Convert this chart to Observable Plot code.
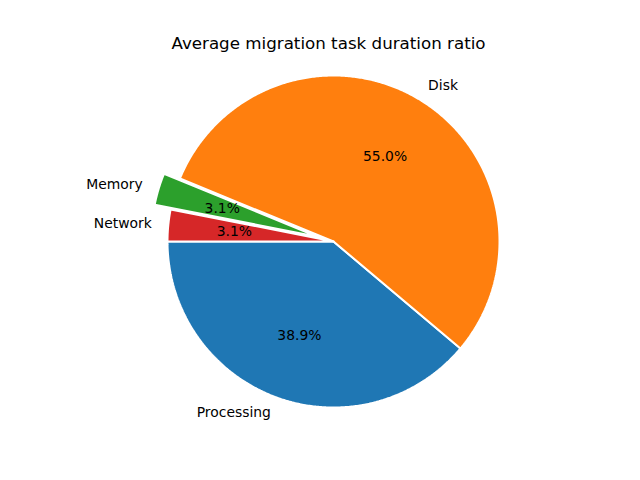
<!DOCTYPE html>
<html>
<head>
<meta charset="utf-8">
<script src="https://cdn.jsdelivr.net/npm/d3@7"></script>
<script src="https://cdn.jsdelivr.net/npm/@observablehq/plot@0.6"></script>
<style>
  html, body { margin: 0; padding: 0; background: #fff; }
  #chart { width: 640px; height: 480px; }
</style>
</head>
<body>
<div id="chart"></div>
<script>
const title = "Average migration task duration ratio";
const categories = ["Processing", "Disk", "Memory", "Network"];
const values = [38.9, 55.0, 3.1, 3.1];
const colors = ["#1f77b4", "#ff7f0e", "#2ca02c", "#d62728"];
const explode = [0, 0, 0.1, 0];
const startAngle = 180; // degrees, counterclockwise

const W = 640, H = 480;
const cx = 333, cy = 241, R = 166;

const total = d3.sum(values);
const wedges = [];
const labels = [];
let a0 = startAngle;
values.forEach((v, i) => {
  const sweep = v / total * 360;
  const a1 = a0 + sweep;
  const mid = (a0 + a1) / 2 * Math.PI / 180;
  const ox = explode[i] * Math.cos(mid), oy = explode[i] * Math.sin(mid);
  const pts = [{k: i, x: ox, y: oy}];
  const n = Math.max(2, Math.ceil(sweep * 2));
  for (let j = 0; j <= n; j++) {
    const t = (a0 + sweep * j / n) * Math.PI / 180;
    pts.push({k: i, x: ox + Math.cos(t), y: oy + Math.sin(t)});
  }
  pts.push({k: i, x: ox, y: oy});
  wedges.push(pts);
  const lx = ox + 1.1 * Math.cos(mid), ly = oy + 1.1 * Math.sin(mid);
  labels.push({
    name: categories[i], x: lx, y: ly,
    anchor: lx - ox >= 0 ? "start" : "end",
    pct: v.toFixed(1) + "%",
    px: ox + 0.6 * Math.cos(mid), py: oy + 0.6 * Math.sin(mid)
  });
  a0 = a1;
});

const marks = [];
wedges.forEach((pts, i) => {
  marks.push(Plot.line(pts, {x: "x", y: "y", fill: colors[i], stroke: "white", strokeWidth: 2, strokeLinejoin: "miter", curve: "linear"}));
});
marks.push(Plot.text(labels.filter(d => d.anchor === "start"), {x: "x", y: "y", text: "name", textAnchor: "start", fontSize: 13.9, fill: "black"}));
marks.push(Plot.text(labels.filter(d => d.anchor === "end"), {x: "x", y: "y", text: "name", textAnchor: "end", fontSize: 13.9, fill: "black"}));
marks.push(Plot.text(labels, {x: "px", y: "py", text: "pct", textAnchor: "middle", fontSize: 13.9, fill: "black"}));
marks.push(Plot.text([title], {frameAnchor: "top", lineAnchor: "middle", dy: 43, dx: 8, fontSize: 16.7, fill: "black"}));

const chart = Plot.plot({
  width: W, height: H,
  margin: 0,
  style: {fontFamily: "DejaVu Sans", background: "white"},
  x: {domain: [-cx / R, (W - cx) / R], range: [0, W], axis: null},
  y: {domain: [-(H - cy) / R, cy / R], range: [H, 0], axis: null},
  marks
});
document.getElementById("chart").appendChild(chart);
</script>
</body>
</html>
